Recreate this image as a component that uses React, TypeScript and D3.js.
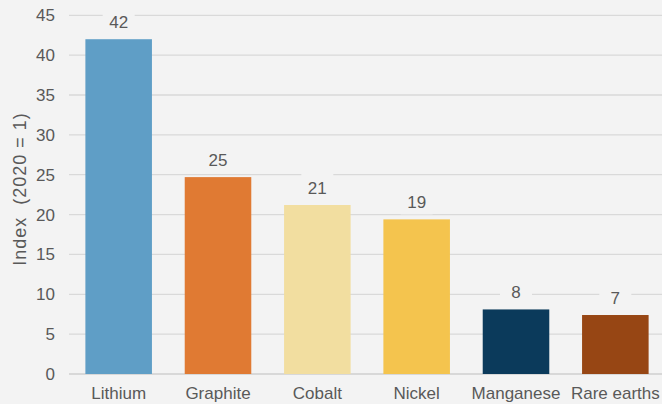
import * as d3 from "d3";
import React from "react";

const categories = ["Lithium", "Graphite", "Cobalt", "Nickel", "Manganese", "Rare earths"];
const values = [42, 24.7, 21.2, 19.4, 8.1, 7.4];
const valueLabels = ["42", "25", "21", "19", "8", "7"];
const colors = ["#5f9ec6", "#e07a33", "#f2dea0", "#f4c44e", "#0b3a5b", "#974614"];
const yTicks = [0, 5, 10, 15, 20, 25, 30, 35, 40, 45];

const W = 662;
const H = 404;
const BG = "#f3f3f3";
const TXT = "#595959";

const App = () => {
  const x = d3.scaleBand().domain(categories).range([69, 665]).paddingInner(0.33).paddingOuter(0.165);
  const y = d3.scaleLinear().domain([0, 45]).range([374, 15.3]);
  const font = "'Liberation Sans', Arial, sans-serif";

  return (
    <svg width={W} height={H} style={{ position: "absolute", left: 0, top: 0, background: BG }}>
      <rect x={0} y={0} width={W} height={H} fill={BG} />
      {yTicks.map((t) => (
        <g key={t}>
          <line x1={69} x2={W} y1={y(t)} y2={y(t)} stroke={t === 0 ? "#cfcfcf" : "#d9d9d9"} strokeWidth={1.3} />
          <text x={55} y={y(t)} dy="0.35em" textAnchor="end" fontFamily={font} fontSize={17} fill={TXT}>
            {t}
          </text>
        </g>
      ))}
      {categories.map((c, i) => {
        const bx = x(c)!;
        const cx = bx + x.bandwidth() / 2;
        const top = y(values[i]);
        return (
          <g key={c}>
            <rect x={bx} y={top} width={x.bandwidth()} height={y(0) - top} fill={colors[i]} />
            <rect x={cx - 16} y={top - 31} width={32} height={26} fill={BG} />
            <text x={cx} y={top - 17} dy="0.35em" textAnchor="middle" fontFamily={font} fontSize={17} fill={TXT}>
              {valueLabels[i]}
            </text>
            <text x={cx} y={393} dy="0.35em" textAnchor="middle" fontFamily={font} fontSize={17} fill={TXT}>
              {c}
            </text>
          </g>
        );
      })}
      <text
        transform={`translate(20,189) rotate(-90)`}
        textAnchor="middle"
        dy="0.35em"
        fontFamily={font}
        fontSize={18}
        letterSpacing={1}
        fill={TXT}
        style={{ whiteSpace: "pre" }}
      >
        {"Index  (2020 = 1)"}
      </text>
    </svg>
  );
};

export default App;
